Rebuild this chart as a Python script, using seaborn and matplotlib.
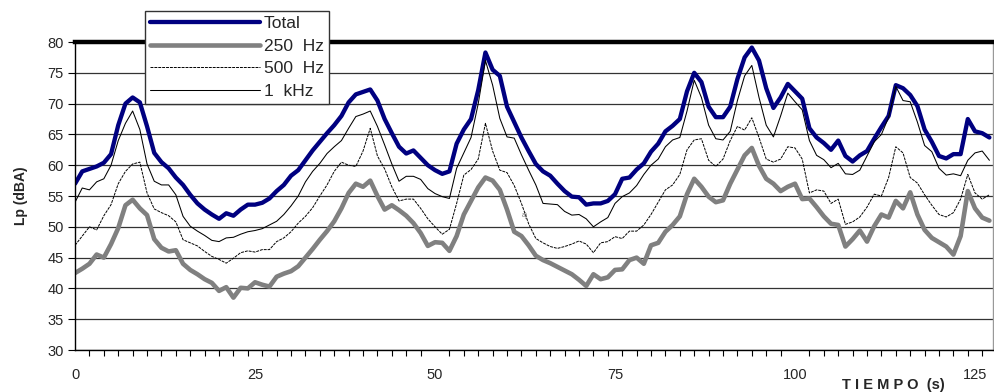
import numpy as np
import matplotlib
matplotlib.use("Agg")
import matplotlib.pyplot as plt
import seaborn as sns

# tiempo en segundos (una muestra por segundo)
tiempo = np.arange(128)

total = [57.0, 59.0, 59.4, 59.8, 60.4, 61.8, 66.5, 70.0, 71.0, 70.2,
         66.3, 62.0, 60.5, 59.5, 58.0, 56.8, 55.2, 53.8, 52.8, 52.0,
         51.3, 52.2, 51.8, 52.8, 53.6, 53.6, 53.9, 54.6, 55.8, 56.8,
         58.3, 59.2, 60.8, 62.4, 63.8, 65.2, 66.5, 68.0, 70.2, 71.5,
         71.9, 72.3, 70.5, 67.5, 65.2, 63.0, 61.9, 62.4, 61.2, 60.0,
         59.2, 58.6, 59.0, 63.5, 65.8, 67.5, 72.2, 78.3, 75.5, 74.5,
         69.5, 67.0, 64.5, 62.3, 60.2, 59.0, 58.3, 57.0, 55.8, 54.9,
         54.8, 53.6, 53.8, 53.8, 54.2, 55.3, 57.8, 58.0, 59.3, 60.3,
         62.2, 63.5, 65.5, 66.4, 67.5, 72.0, 75.0, 73.5, 69.5, 67.8,
         67.8, 69.5, 74.0, 77.5, 79.1, 77.0, 72.5, 69.3, 71.0, 73.2,
         72.0, 70.8, 66.0, 64.5, 63.6, 62.5, 64.0, 61.5, 60.6, 61.6,
         62.3, 64.3, 66.2, 68.0, 73.0, 72.5, 71.4, 69.6, 65.8, 63.8,
         61.5, 61.1, 61.8, 61.8, 67.5, 65.5, 65.2, 64.5]

hz250 = [42.5, 43.2, 44.0, 45.5, 45.0, 47.2, 49.8, 53.5, 54.4, 53.0,
         51.9, 48.0, 46.6, 46.0, 46.2, 44.0, 43.0, 42.3, 41.5, 40.9,
         39.6, 40.2, 38.5, 40.1, 40.0, 41.0, 40.6, 40.3, 41.9, 42.4,
         42.8, 43.6, 45.0, 46.4, 47.9, 49.3, 50.9, 53.0, 55.5, 57.0,
         56.5, 57.5, 55.0, 52.8, 53.5, 52.7, 51.8, 50.6, 49.0, 46.9,
         47.5, 47.4, 46.1, 48.5, 52.0, 54.2, 56.4, 58.0, 57.5, 56.0,
         52.8, 49.2, 48.5, 47.0, 45.3, 44.6, 44.1, 43.5, 42.9, 42.3,
         41.4, 40.4, 42.3, 41.5, 41.8, 43.0, 43.1, 44.6, 45.0, 44.0,
         47.0, 47.4, 49.2, 50.3, 51.7, 55.3, 57.8, 56.5, 54.9, 54.0,
         54.3, 57.0, 59.3, 61.6, 62.8, 59.9, 57.8, 57.0, 55.8, 56.5,
         57.0, 54.5, 54.6, 53.2, 51.7, 50.5, 50.3, 46.8, 48.0, 49.4,
         47.6, 50.1, 52.0, 51.5, 54.2, 53.0, 55.6, 52.0, 49.5, 48.2,
         47.5, 46.8, 45.5, 48.5, 55.8, 53.0, 51.5, 51.0]

hz500 = [47.0, 48.5, 50.0, 49.5, 51.8, 53.6, 57.0, 59.0, 60.2, 60.5,
         55.5, 52.9, 52.3, 51.8, 50.8, 47.9, 47.4, 46.9, 46.0, 45.2,
         44.7, 44.1, 44.9, 45.8, 46.1, 45.9, 46.3, 46.3, 47.6, 48.2,
         49.2, 50.6, 51.7, 53.1, 55.0, 56.8, 59.0, 60.5, 60.0, 59.8,
         62.3, 66.0, 61.5, 59.4, 56.5, 54.2, 54.5, 54.5, 53.0, 51.3,
         50.0, 48.8, 49.6, 53.8, 58.4, 59.3, 61.0, 66.8, 62.3, 59.2,
         58.8, 56.7, 53.8, 50.5, 48.1, 47.4, 46.8, 46.5, 46.8, 47.2,
         47.7, 47.2, 45.8, 47.4, 47.6, 48.4, 48.1, 49.3, 49.3, 50.3,
         52.0, 54.0, 56.0, 56.8, 58.5, 62.5, 64.1, 64.3, 60.8, 59.8,
         61.0, 64.0, 66.3, 65.7, 67.7, 64.5, 61.0, 60.5, 61.0, 63.0,
         62.8, 61.0, 55.5, 56.0, 55.8, 53.8, 54.5, 50.4, 50.8, 51.6,
         53.2, 55.3, 55.0, 58.0, 63.0, 62.0, 58.0, 57.1, 55.2, 53.5,
         52.0, 51.6, 52.3, 54.5, 58.5, 55.5, 54.5, 55.2]

khz1 = [54.0, 56.3, 56.0, 57.3, 57.8, 60.0, 64.0, 66.8, 68.8, 65.8,
        60.2, 57.4, 56.8, 56.8, 55.2, 51.7, 50.1, 49.3, 48.6, 47.8,
        47.6, 48.2, 48.3, 48.8, 49.2, 49.4, 49.7, 50.3, 50.9, 52.0,
        53.4, 55.0, 57.3, 59.0, 60.3, 61.9, 63.0, 64.0, 66.0, 67.9,
        68.3, 68.8, 66.3, 63.3, 60.2, 57.4, 58.2, 58.2, 57.7, 56.2,
        55.4, 54.9, 54.6, 59.5, 62.0, 64.5, 70.0, 77.0, 73.0, 67.6,
        64.6, 64.4, 61.7, 59.2, 56.8, 53.8, 53.7, 53.6, 52.5, 51.9,
        52.0, 51.3, 50.0, 50.8, 51.5, 53.8, 54.9, 55.5, 56.7, 58.5,
        60.0, 61.0, 63.0, 64.1, 64.5, 68.8, 73.8, 71.0, 66.5, 64.3,
        64.1, 65.5, 70.5, 74.5, 76.2, 71.0, 66.5, 64.6, 68.0, 71.7,
        70.3, 69.0, 64.0, 61.6, 60.9, 59.6, 60.3, 58.6, 58.5, 59.2,
        61.5, 63.8, 65.0, 67.8, 72.8, 70.5, 70.3, 67.0, 63.2, 62.2,
        59.5, 58.4, 58.6, 58.3, 60.8, 62.0, 62.3, 60.8]

x_labels = [0, 25, 50, 75, 100, 125]
y_ticks = [30, 35, 40, 45, 50, 55, 60, 65, 70, 75, 80]

sns.set_style("white")
plt.rcParams["font.family"] = ["Liberation Sans", "DejaVu Sans"]

fig = plt.figure(figsize=(9.94, 3.92), dpi=100)
ax = fig.add_axes([0.0755, 0.1071, 0.9235, 0.7857])

sns.lineplot(x=tiempo, y=total, ax=ax, color="#000080", lw=3.1, label="Total")
sns.lineplot(x=tiempo, y=hz250, ax=ax, color="#808080", lw=3.3, label="250 Hz")
sns.lineplot(x=tiempo, y=hz500, ax=ax, color="black", lw=0.7, label="500 Hz")
sns.lineplot(x=tiempo, y=khz1, ax=ax, color="black", lw=0.75, label="1 kHz")
ax.lines[2].set_dashes((3, 1))

ax.set_xlim(0, 127.5)
ax.set_ylim(30, 80)
ax.set_yticks(y_ticks)
ax.set_xticks(x_labels)
ax.set_xticks(np.arange(0, 128, 2), minor=True)
ax.tick_params(axis="x", which="major", length=0, pad=13, labelsize=10.5)
ax.tick_params(axis="x", which="minor", length=4, width=0.8, direction="out",
               color="black", bottom=True)
ax.tick_params(axis="y", length=5, width=0.8, direction="out", color="black",
               left=True, pad=3, labelsize=10.5)
ax.yaxis.grid(True, color="#333333", lw=0.9)
ax.set_axisbelow(True)

for s in ["left", "bottom"]:
    ax.spines[s].set_color("black")
    ax.spines[s].set_linewidth(1.0)
ax.spines["top"].set_color("black")
ax.spines["top"].set_linewidth(3.2)
ax.spines["right"].set_color("#999999")
ax.spines["right"].set_linewidth(1.0)

ax.set_xlabel("")
ax.set_ylabel("Lp (dBA)", fontsize=10, fontweight="bold", labelpad=14)
fig.text(893 / 994, 1 - 385 / 392, "T I E M P O  (s)", fontsize=10.5,
         fontweight="bold", ha="center", va="center")
ax.text(62.1, 51.6, "a)", fontsize=5, color="#777777")

leg = ax.legend(loc="upper left", bbox_to_anchor=(0.0763, 1.101),
                borderaxespad=0, fontsize=12.5, handlelength=6.3,
                handletextpad=0.25, labelspacing=0.42, borderpad=0.3,
                fancybox=False, framealpha=1, edgecolor="#333333")
leg.get_frame().set_linewidth(1.0)
for txt in leg.get_texts():
    txt.set_text(txt.get_text().replace(" ", "  "))

plt.savefig("out.png", dpi=100)
